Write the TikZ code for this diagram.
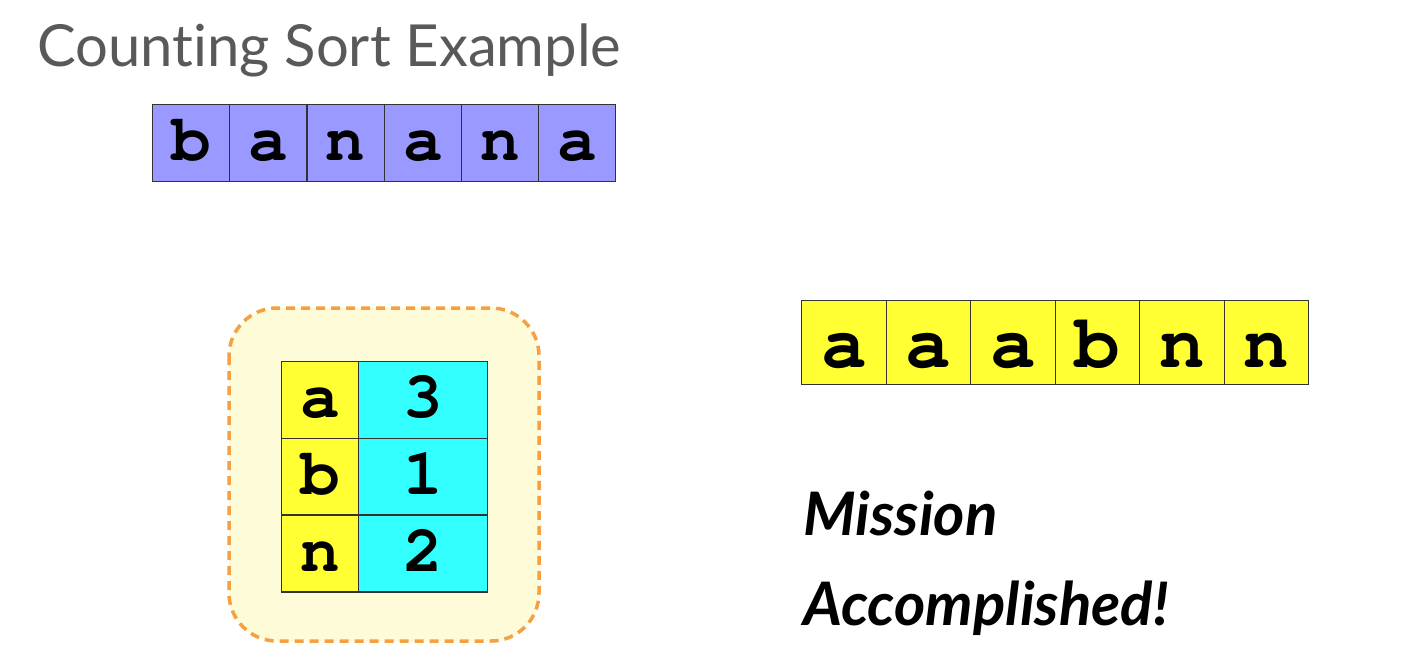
\documentclass[tikz,border=0pt]{standalone}
\usepackage{fontspec}
\setmainfont{Lato}[Ligatures={NoCommon}]
\newfontfamily\monob{texgyrecursor-bold.otf}
\newfontfamily\handf{Lato}
\definecolor{titlegray}{HTML}{595959}
\definecolor{peri}{HTML}{9999FF}
\definecolor{yel}{HTML}{FFFF33}
\definecolor{cya}{HTML}{33FFFF}
\definecolor{boxfill}{HTML}{FEFBD8}
\definecolor{boxedge}{HTML}{F5A142}
\tikzset{
  cellbox/.style={draw=black!80, line width=1.2pt, inner sep=0pt, anchor=north west, text depth=0pt},
  smallmono/.style={font=\monob\fontsize{66}{66}\selectfont, text height=35pt},
  bigmono/.style={font=\monob\fontsize{76}{76}\selectfont, text height=50pt},
}
\begin{document}
\begin{tikzpicture}[x=1pt,y=-1pt]
\useasboundingbox (0,0) rectangle (1427,658);
\fill[white] (0,0) rectangle (1427,658);
% title
\node[anchor=base west, inner sep=0pt, text=titlegray, font=\fontsize{58}{58}\selectfont] (title) at (37,67) {Counting Sort Example};
% banana array
\foreach \ch [count=\i from 0] in {b,a,n,a,n,a} {
  \node[cellbox, smallmono, fill=peri, minimum width=77.2pt, minimum height=77pt] (in\i) at (152+\i*77.2,104) {\ch};
}
% counts box
\draw[boxedge, fill=boxfill, line width=3.5pt, dash pattern=on 9pt off 6pt, rounded corners=48pt] (229,308) rectangle (539,641);
\foreach \ch/\n [count=\i from 0] in {a/3,b/1,n/2} {
  \node[cellbox, smallmono, fill=yel, minimum width=77pt, minimum height=77pt] (k\i) at (281,361+\i*76.7) {\ch};
  \node[cellbox, smallmono, fill=cya, minimum width=129pt, minimum height=77pt] (v\i) at (358,361+\i*76.7) {\n};
}
% output array
\foreach \ch [count=\i from 0] in {a,a,a,b,n,n} {
  \node[cellbox, bigmono, fill=yel, minimum width=84.5pt, minimum height=84pt] (out\i) at (801+\i*84.5,300) {\ch};
}
% mission accomplished
\node[anchor=base west, inner sep=0pt, font=\handf\bfseries\itshape\fontsize{60}{60}\selectfont] (m1) at (803,535) {Mission};
\node[anchor=base west, inner sep=0pt, font=\handf\bfseries\itshape\fontsize{60}{60}\selectfont] (m2) at (803,625) {Accomplished!};
\end{tikzpicture}
\end{document}
